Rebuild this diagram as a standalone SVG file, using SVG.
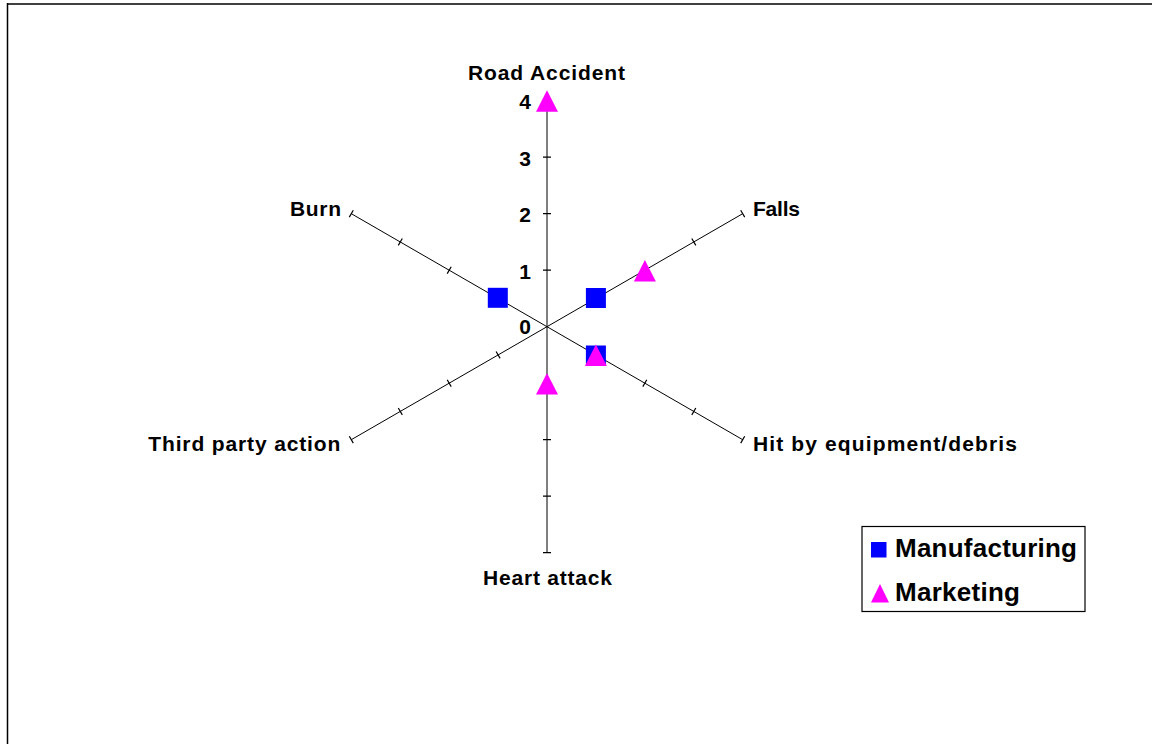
<svg xmlns="http://www.w3.org/2000/svg" width="1152" height="744" viewBox="0 0 1152 744">
  <style>
    .axis { stroke: #000; stroke-width: 1; fill: none; }
    .tick { stroke: #000; stroke-width: 1.2; fill: none; }
    .lbl { font-family: "Liberation Sans", Arial, sans-serif; font-weight: bold; font-size: 21px; fill: #000; }
    .num { font-family: "Liberation Sans", Arial, sans-serif; font-weight: bold; font-size: 21px; fill: #000; text-anchor: end; }
    .leg { font-family: "Liberation Sans", Arial, sans-serif; font-weight: bold; font-size: 26px; fill: #000; }
    .mfg { fill: #0000FF; }
    .mkt { fill: #FF00FF; }
  </style>
  <defs>
    <rect id="sq" x="-10" y="-10" width="20" height="20"/>
    <polygon id="tri" points="0,-10.5 -11,11 11,11"/>
  </defs>
  <rect x="0" y="0" width="1152" height="744" fill="#fff"/>
  <!-- frame -->
  <line x1="7" y1="4" x2="1152" y2="4" stroke="#404040" stroke-width="2"/>
  <line x1="7.5" y1="3" x2="7.5" y2="744" stroke="#000" stroke-width="1.5"/>

  <g id="connectors">
    <!-- axes -->
    <line class="axis" x1="547" y1="100.7" x2="547" y2="552.7"/>
    <line class="axis" x1="351.3" y1="213.7" x2="742.7" y2="439.7"/>
    <line class="axis" x1="351.3" y1="439.7" x2="742.7" y2="213.7"/>
    <!-- vertical ticks -->
    <path class="tick" d="M543,157.2 H551 M543,213.7 H551 M543,270.2 H551 M543,383.2 H551 M543,439.7 H551 M543,496.2 H551 M543,552.7 H551"/>
    <!-- diagonal ticks on the Third party / Falls axis -->
    <path class="tick" d="
      M593.9,294.99 l4,6.93
      M642.8,266.74 l4,6.93
      M691.8,238.49 l4,6.93
      M740.7,210.24 l4,6.93
      M496.1,351.49 l4,6.93
      M447.2,379.74 l4,6.93
      M398.3,407.99 l4,6.93
      M349.3,436.24 l4,6.93"/>
    <!-- diagonal ticks on the Burn / Hit axis -->
    <path class="tick" d="
      M593.9,358.42 l4,-6.93
      M642.8,386.67 l4,-6.93
      M691.8,414.92 l4,-6.93
      M740.7,443.17 l4,-6.93
      M496.1,301.92 l4,-6.93
      M447.2,273.67 l4,-6.93
      M398.3,245.42 l4,-6.93
      M349.3,217.17 l4,-6.93"/>
  </g>

  <g id="scale">
    <text class="num" x="531" y="109">4</text>
    <text class="num" x="531" y="165.7">3</text>
    <text class="num" x="531" y="222">2</text>
    <text class="num" x="531" y="279">1</text>
    <text class="num" x="531" y="334">0</text>
  </g>

  <g id="axis-road-accident"><text class="lbl" x="468" y="79.5" textLength="157" lengthAdjust="spacing">Road Accident</text></g>
  <g id="axis-falls"><text class="lbl" x="753" y="216" textLength="47" lengthAdjust="spacing">Falls</text></g>
  <g id="axis-hit"><text class="lbl" x="753" y="450.5" textLength="264" lengthAdjust="spacing">Hit by equipment/debris</text></g>
  <g id="axis-heart-attack"><text class="lbl" x="483" y="585" textLength="129" lengthAdjust="spacing">Heart attack</text></g>
  <g id="axis-third-party"><text class="lbl" x="148.3" y="451" textLength="192" lengthAdjust="spacing">Third party action</text></g>
  <g id="axis-burn"><text class="lbl" x="290" y="216" textLength="51" lengthAdjust="spacing">Burn</text></g>

  <g id="series-manufacturing" class="mfg">
    <use href="#sq" x="595.9" y="298"/>
    <use href="#sq" x="497.8" y="297.8"/>
    <use href="#sq" x="595.9" y="355.5"/>
  </g>
  <g id="series-marketing" class="mkt">
    <use href="#tri" x="547" y="100.7"/>
    <use href="#tri" x="644.9" y="270.5"/>
    <use href="#tri" x="595.9" y="355"/>
    <use href="#tri" x="547" y="383.5"/>
  </g>

  <g id="legend">
    <rect x="862" y="526.5" width="223" height="85" fill="#fff" stroke="#000" stroke-width="1.2"/>
    <rect class="mfg" x="871" y="542" width="15.5" height="15.5"/>
    <polygon class="mkt" points="880,584 871,602.5 889,602.5"/>
    <text class="leg" x="895" y="557" textLength="182" lengthAdjust="spacing">Manufacturing</text>
    <text class="leg" x="895" y="601" textLength="125" lengthAdjust="spacing">Marketing</text>
  </g>
</svg>
